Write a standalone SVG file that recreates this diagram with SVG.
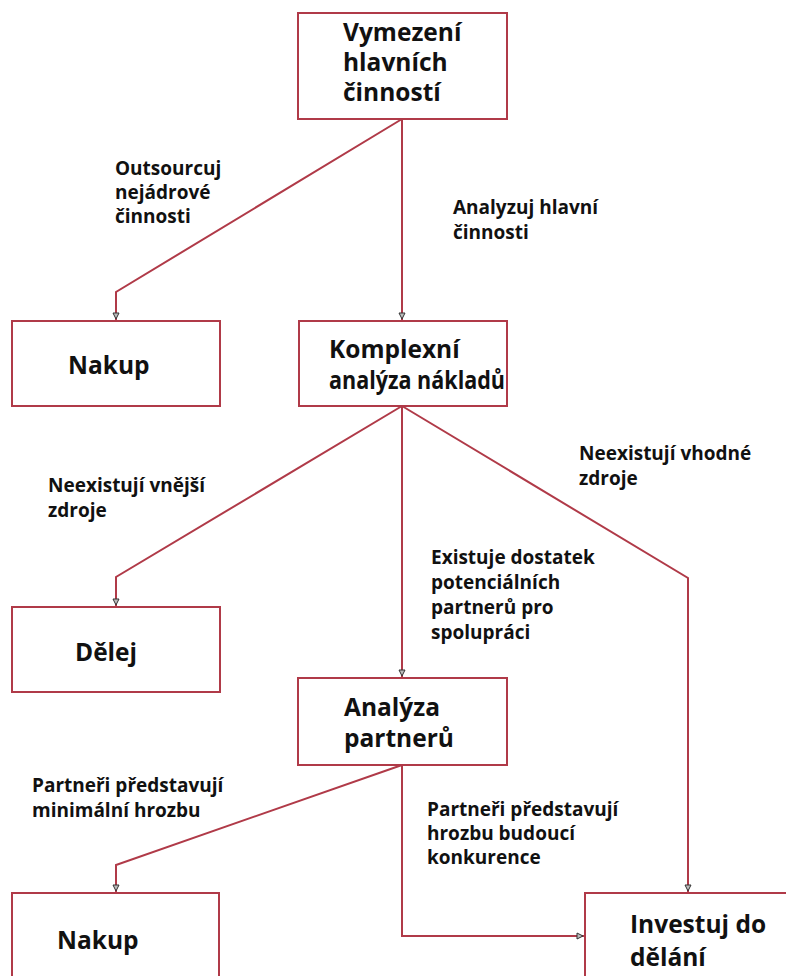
<svg xmlns="http://www.w3.org/2000/svg" width="786" height="976" viewBox="0 0 786 976">
  <style>
    .box { fill: #ffffff; stroke: #b03a48; stroke-width: 2; }
    .edge { fill: none; stroke: #b03a48; stroke-width: 2; }
    .node-text { font-family: "Open Sans", "DejaVu Sans", sans-serif; font-weight: 700; font-size: 24.5px; fill: #111111; }
    .label { font-family: "Open Sans", "DejaVu Sans", sans-serif; font-weight: 700; font-size: 19px; fill: #111111; }
  </style>
  <defs>
    <marker id="arrow" viewBox="0 0 8 8" refX="8" refY="4" markerWidth="8" markerHeight="8" markerUnits="userSpaceOnUse" orient="auto">
      <path d="M1,1 L7,4 L1,7 Z" fill="#bbbbbb" stroke="#333333" stroke-width="1"/>
    </marker>
  </defs>
  <rect width="786" height="976" fill="#ffffff"/>

  <!-- connectors -->
  <g id="connectors">
    <path class="edge" d="M402,119 L116,292 L116,320" marker-end="url(#arrow)"/>
    <path class="edge" d="M402,119 L402,320" marker-end="url(#arrow)"/>
    <path class="edge" d="M402,406 L116,577 L116,606" marker-end="url(#arrow)"/>
    <path class="edge" d="M402,406 L402,677" marker-end="url(#arrow)"/>
    <path class="edge" d="M402,406 L688,578 L688,892" marker-end="url(#arrow)"/>
    <path class="edge" d="M402,765 L116,865 L116,892" marker-end="url(#arrow)"/>
    <path class="edge" d="M402,765 L402,936 L584,936" marker-end="url(#arrow)"/>
  </g>

  <!-- connector labels -->
  <g id="labels">
    <text class="label" x="115" y="175">Outsourcuj</text>
    <text class="label" x="115" y="199">nejádrové</text>
    <text class="label" x="115" y="223">činnosti</text>
    <text class="label" x="453" y="214">Analyzuj hlavní</text>
    <text class="label" x="453" y="239">činnosti</text>
    <text class="label" x="48" y="492">Neexistují vnější</text>
    <text class="label" x="48" y="517">zdroje</text>
    <text class="label" x="579" y="460">Neexistují vhodné</text>
    <text class="label" x="579" y="485">zdroje</text>
    <text class="label" x="431" y="564">Existuje dostatek</text>
    <text class="label" x="431" y="589">potenciálních</text>
    <text class="label" x="431" y="614">partnerů pro</text>
    <text class="label" x="431" y="639">spolupráci</text>
    <text class="label" x="32" y="792">Partneři představují</text>
    <text class="label" x="32" y="817">minimální hrozbu</text>
    <text class="label" x="427" y="816">Partneři představují</text>
    <text class="label" x="427" y="840">hrozbu budoucí</text>
    <text class="label" x="427" y="864">konkurence</text>
  </g>

  <!-- nodes -->
  <g id="vymezeni">
    <rect class="box" x="298" y="13" width="209" height="106"/>
    <text class="node-text" x="343" y="41">Vymezení</text>
    <text class="node-text" x="343" y="71">hlavních</text>
    <text class="node-text" x="343" y="101">činností</text>
  </g>
  <g id="nakup-1">
    <rect class="box" x="12" y="321" width="208" height="85"/>
    <text class="node-text" x="68" y="374">Nakup</text>
  </g>
  <g id="komplexni-analyza">
    <rect class="box" x="299" y="321" width="208" height="85"/>
    <text class="node-text" x="329" y="358">Komplexní</text>
    <text class="node-text" x="329" y="389" textLength="176" lengthAdjust="spacingAndGlyphs">analýza nákladů</text>
  </g>
  <g id="delej">
    <rect class="box" x="12" y="607" width="208" height="85"/>
    <text class="node-text" x="75" y="661">Dělej</text>
  </g>
  <g id="analyza-partneru">
    <rect class="box" x="298" y="678" width="209" height="87"/>
    <text class="node-text" x="344" y="716">Analýza</text>
    <text class="node-text" x="344" y="747">partnerů</text>
  </g>
  <g id="nakup-2">
    <rect class="box" x="12" y="893" width="207" height="100"/>
    <text class="node-text" x="57" y="949">Nakup</text>
  </g>
  <g id="investuj">
    <rect class="box" x="585" y="893" width="220" height="100"/>
    <text class="node-text" x="630" y="933">Investuj do</text>
    <text class="node-text" x="630" y="966">dělání</text>
  </g>
</svg>
